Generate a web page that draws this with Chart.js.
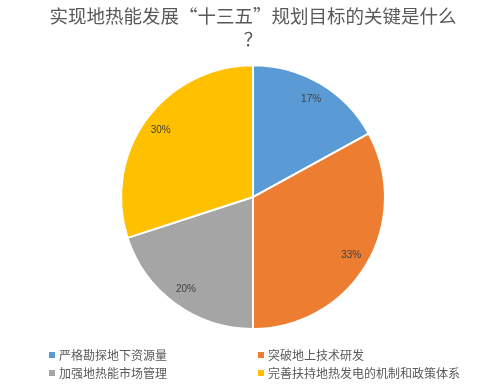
<!DOCTYPE html>
<html>
<head>
<meta charset="utf-8">
<script src="https://cdn.jsdelivr.net/npm/chart.js@4/dist/chart.umd.min.js"></script>
<style>
  html, body { margin: 0; padding: 0; background: #fff; }
  #wrap { position: relative; width: 489px; height: 384px; }
  #legend { position: absolute; left: 0; top: 0; width: 489px; height: 384px; pointer-events: none;
            font-family: "Noto Sans CJK SC", sans-serif; font-size: 12px; color: #595959; }
  .li { position: absolute; white-space: nowrap; line-height: 14px; }
  .sw { position: absolute; width: 6px; height: 6px; left: -10px; top: 4px; }
</style>
</head>
<body>
<div id="wrap">
  <canvas id="c" width="489" height="384"></canvas>
  <div id="legend"></div>
</div>
<script>
const titleLines = ["实现地热能发展“十三五”规划目标的关键是什么", "？"];
const categories = ["严格勘探地下资源量", "突破地上技术研发", "加强地热能市场管理", "完善扶持地热发电的机制和政策体系"];
const values = [17, 33, 20, 30];
const colors = ["#5B9BD5", "#ED7D31", "#A5A5A5", "#FFC000"];

const labelPlugin = {
  id: 'sliceLabels',
  afterDatasetsDraw(chart) {
    const ctx = chart.ctx;
    const meta = chart.getDatasetMeta(0);
    ctx.save();
    ctx.font = '10px "Liberation Sans", "DejaVu Sans", sans-serif';
    ctx.fillStyle = '#404040';
    ctx.textAlign = 'center';
    ctx.textBaseline = 'middle';
    meta.data.forEach((arc, i) => {
      const p = arc.getProps(['x', 'y', 'startAngle', 'endAngle', 'outerRadius'], true);
      const mid = (p.startAngle + p.endAngle) / 2;
      const r = p.outerRadius * 0.865;
      ctx.fillText(values[i] + '%', p.x + Math.cos(mid) * r, p.y + Math.sin(mid) * r);
    });
    ctx.restore();
  }
};

new Chart(document.getElementById('c'), {
  type: 'pie',
  data: {
    labels: categories,
    datasets: [{
      data: values,
      backgroundColor: colors,
      borderColor: '#ffffff',
      borderWidth: 2,
      hoverOffset: 0,
      offset: 0
    }]
  },
  options: {
    responsive: false,
    animation: false,
    layout: { padding: { left: 22, right: 5, top: 0, bottom: 54 } },
    plugins: {
      legend: { display: false },
      tooltip: { enabled: false },
      title: {
        display: true,
        text: titleLines,
        color: '#595959',
        font: { family: '"Noto Sans CJK SC", sans-serif', size: 18.5, weight: 'normal', lineHeight: 1.22 },
        padding: { top: 5, bottom: 14 }
      }
    }
  },
  plugins: [labelPlugin]
});

const legendPos = [[59, 348], [268, 348], [59, 366], [268, 366]];
const lg = document.getElementById('legend');
categories.forEach((c, i) => {
  const d = document.createElement('div');
  d.className = 'li';
  d.style.left = legendPos[i][0] + 'px';
  d.style.top = legendPos[i][1] + 'px';
  const s = document.createElement('span');
  s.className = 'sw';
  s.style.background = colors[i];
  d.appendChild(s);
  d.appendChild(document.createTextNode(c));
  lg.appendChild(d);
});
</script>
</body>
</html>
